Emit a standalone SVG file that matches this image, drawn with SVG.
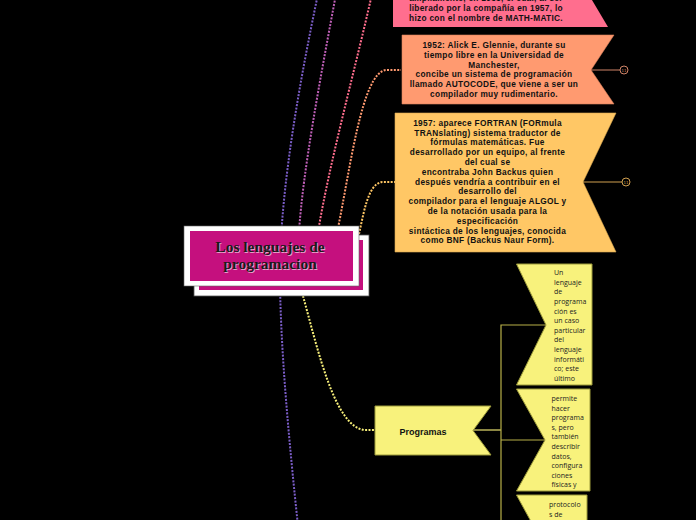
<svg xmlns="http://www.w3.org/2000/svg" width="696" height="520" viewBox="0 0 696 520">
<style>
.dot{fill:none;stroke-width:2;stroke-dasharray:2 1.4}
.nt{font-family:"Liberation Sans",Arial,sans-serif;font-weight:bold;font-size:8.3px;letter-spacing:0.3px;fill:#111;text-anchor:middle}
.yt{font-family:"Open Sans","DejaVu Sans",sans-serif;font-size:7px;fill:#222}
.mk{fill:none;stroke-width:1}
.mt{font-family:"DejaVu Sans",sans-serif;font-size:4px;text-anchor:middle}
.yl{fill:#F8F27C;stroke:#9C9A3A;stroke-width:1}
.trunk{fill:none;stroke:#B8B048;stroke-width:1.2}
</style>
<rect width="696" height="520" fill="#000"/>
<g id="connectors">
<path class="dot" stroke="#7B5EC8" d="M318,-6 C300,80 282,180 280,262 C279,340 290,450 298,526"/>
<path class="dot" stroke="#C060B8" d="M336,-6 C320,80 303,170 299,232"/>
<path class="dot" stroke="#FF6E8E" d="M372,-6 C355,70 330,160 318,232"/>
<path class="dot" stroke="#FF9A70" d="M338,228 C350,170 362,72 386,70 L401,70"/>
<path class="dot" stroke="#FFC765" d="M359,234 C364,212 368,184 382,182 L395,182"/>
<path class="dot" stroke="#F8F07A" d="M303,296 C318,350 335,428 365,430 L375,430"/>
<path stroke="#D08468" stroke-width="1" d="M591,70 L620,70"/>
<circle class="mk" stroke="#D08468" cx="624" cy="70" r="4"/>
<text class="mt" fill="#D08468" x="624" y="71.5">11</text>
<path stroke="#D0A050" stroke-width="1" d="M583,182 L622,182"/>
<circle class="mk" stroke="#D0A050" cx="626" cy="182" r="4"/>
<text class="mt" fill="#D0A050" x="626" y="183.5">11</text>
<path stroke="#E8E070" stroke-width="1.2" d="M473,430 L501,430"/>
<path class="trunk" d="M501,520 L501,325 L546,325 M501,440 L545,440"/>
</g>
<g id="node-pink">
<polygon points="393,-40 608,-40 589,-5 608,27 393,27" fill="#FF6E8E"/>
<text class="nt" x="486" y="1.2">ampliamente, en 1955, el cual, al ser</text>
<text class="nt" x="486" y="11">liberado por la compañía en 1957, lo</text>
<text class="nt" x="486" y="20.6">hizo con el nombre de MATH-MATIC.</text>
</g>
<g id="node-salmon">
<polygon points="402,35 614,35 591,70 614,104 402,104" fill="#FF9A70" stroke="#D8805C" stroke-width="0.6"/>
<text class="nt" x="494" y="48">1952: Alick E. Glennie, durante su</text>
<text class="nt" x="494" y="57.8">tiempo libre en la Universidad de</text>
<text class="nt" x="494" y="67.6">Manchester,</text>
<text class="nt" x="494" y="77.4">concibe un sistema de programación</text>
<text class="nt" x="494" y="87.2">llamado AUTOCODE, que viene a ser un</text>
<text class="nt" x="494" y="97">compilador muy rudimentario.</text>
</g>
<g id="node-orange">
<polygon points="395,113 616,113 583,182 616,252 395,252" fill="#FFC765" stroke="#D8A850" stroke-width="0.6"/>
<text class="nt" x="487.5" y="125.7">1957: aparece FORTRAN (FORmula</text>
<text class="nt" x="487.5" y="135.5">TRANslating) sistema traductor de</text>
<text class="nt" x="487.5" y="145.3">fórmulas matemáticas. Fue</text>
<text class="nt" x="487.5" y="155.1">desarrollado por un equipo, al frente</text>
<text class="nt" x="487.5" y="164.9">del cual se</text>
<text class="nt" x="487.5" y="174.7">encontraba John Backus quien</text>
<text class="nt" x="487.5" y="184.5">después vendría a contribuir en el</text>
<text class="nt" x="487.5" y="194.3">desarrollo del</text>
<text class="nt" x="487.5" y="204.1">compilador para el lenguaje ALGOL y</text>
<text class="nt" x="487.5" y="213.9">de la notación usada para la</text>
<text class="nt" x="487.5" y="223.7">especificación</text>
<text class="nt" x="487.5" y="233.5">sintáctica de los lenguajes, conocida</text>
<text class="nt" x="487.5" y="243.3">como BNF (Backus Naur Form).</text>
</g>
<g id="node-central">
<rect x="194" y="235" width="175" height="61" fill="#fff" stroke="#555" stroke-width="0.8"/>
<rect x="199" y="240" width="164" height="50" fill="#C5107E"/>
<rect x="184" y="226" width="175" height="60" fill="#fff" stroke="#666" stroke-width="0.6"/>
<rect x="190" y="231" width="163" height="50" fill="#C5107E"/>
<g font-family="'Liberation Serif','DejaVu Serif',serif" font-weight="bold" font-size="15.5" text-anchor="middle">
<text x="271" y="252.5" fill="#E8A0C8">Los lenguajes de</text>
<text x="271" y="269.5" fill="#E8A0C8">programacion</text>
<text x="270" y="252" fill="#1A1A1A">Los lenguajes de</text>
<text x="270" y="269" fill="#1A1A1A">programacion</text>
</g>
</g>
<g id="node-programas">
<polygon points="375,406 491,406 473,430.5 491,455 375,455" class="yl"/>
<text x="423" y="434.5" font-family="'Liberation Sans',Arial,sans-serif" font-weight="bold" font-size="9" text-anchor="middle" fill="#111">Programas</text>
</g>
<g id="node-y1">
<polygon points="516.5,264 592,264 592,385 516.5,385 546,325" class="yl"/>
<text class="yt" x="554" y="275.2">Un</text>
<text class="yt" x="554" y="284.8">lenguaje</text>
<text class="yt" x="554" y="294.4">de</text>
<text class="yt" x="554" y="304">programa</text>
<text class="yt" x="554" y="313.6">ción es</text>
<text class="yt" x="554" y="323.2">un caso</text>
<text class="yt" x="554" y="332.8">particular</text>
<text class="yt" x="554" y="342.4">del</text>
<text class="yt" x="554" y="352">lenguaje</text>
<text class="yt" x="554" y="361.6">informáti</text>
<text class="yt" x="554" y="371.2">co; este</text>
<text class="yt" x="554" y="380.8">último</text>
</g>
<g id="node-y2">
<polygon points="516.5,389 590,389 590,491 516.5,491 545,440" class="yl"/>
<text class="yt" x="551.5" y="401">permite</text>
<text class="yt" x="551.5" y="410.6">hacer</text>
<text class="yt" x="551.5" y="420.2">programa</text>
<text class="yt" x="551.5" y="429.8">s, pero</text>
<text class="yt" x="551.5" y="439.4">también</text>
<text class="yt" x="551.5" y="449">describir</text>
<text class="yt" x="551.5" y="458.6">datos,</text>
<text class="yt" x="551.5" y="468.2">configura</text>
<text class="yt" x="551.5" y="477.8">ciones</text>
<text class="yt" x="551.5" y="487.4">físicas y</text>
</g>
<g id="node-y3">
<polygon points="516.5,495 587,495 587,600 516.5,600 545,547" class="yl"/>
<text class="yt" x="549" y="506.6">protocolo</text>
<text class="yt" x="549" y="517.4">s de</text>
</g>
</svg>
